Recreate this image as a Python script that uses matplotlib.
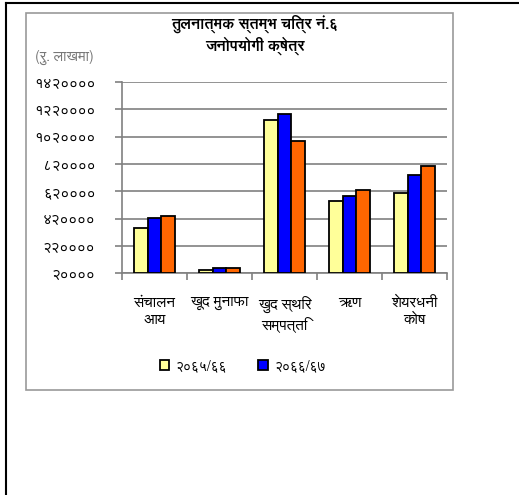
import numpy as np
import matplotlib
matplotlib.use("Agg")
import matplotlib.pyplot as plt
from matplotlib import font_manager
from matplotlib.ft2font import FT2Font
from matplotlib.lines import Line2D
from matplotlib.patches import Rectangle

# Data (in rupees lakh)
categories = ["संचालन\nआय", "खूद मुनाफा", "खुद स्थिर\nसम्पत्ति", "ऋण", "शेयरधनी\nकोष"]
series_names = ["२०६५/६६", "२०६६/६७", "२०६७/६८"]
vals_6566 = [350000, 46000, 1141000, 552000, 608000]
vals_6667 = [423000, 61000, 1187000, 584000, 740000]
vals_6768 = [442000, 57000, 987000, 632000, 808000]
ytick_vals = [20000, 220000, 420000, 620000, 820000, 1020000, 1220000, 1420000]
ytick_labels = ["२००००", "२२००००", "४२००००", "६२००००", "८२००००", "१०२००००", "१२२००००", "१४२००००"]
colors = ["#FFFF99", "#0000FF", "#FF6600"]


# pick an installed font with Devanagari glyphs
def pick_deva_font():
    names = []
    for f in font_manager.fontManager.ttflist:
        try:
            if 0x0915 in FT2Font(f.fname).get_charmap():
                names.append(f.name)
        except Exception:
            pass
    for pref in ["FreeSans", "FreeSerif"]:
        if pref in names:
            return pref
    return names[0] if names else None


deva = pick_deva_font()
plt.rcParams["font.family"] = ([deva] if deva else []) + ["DejaVu Sans"]

fig = plt.figure(figsize=(5.19, 4.95), dpi=100)
W, H = 519, 495

# page frame (left and top edges only)
fig.add_artist(Line2D([6 / W, 6 / W], [0, 1 - 3 / H], color="black", lw=1.5))
fig.add_artist(Line2D([6 / W, 1], [1 - 3 / H, 1 - 3 / H], color="black", lw=1.5))
# chart box
fig.add_artist(Rectangle((26 / W, 1 - 390 / H), (453 - 26) / W, (390 - 13) / H,
                         fill=False, edgecolor="#999999", lw=1.2))

ax = fig.add_axes([122 / W, 1 - 273.3 / H, (447 - 122) / W, (273.3 - 82) / H])

x = np.arange(len(categories))
bw = 0.215
all_vals = [vals_6566, vals_6667, vals_6768]
bars = []
for i, (v, c) in enumerate(zip(all_vals, colors)):
    b = ax.bar(x + (i - 1) * bw, np.array(v) - ytick_vals[0], bw, bottom=ytick_vals[0],
               color=c, edgecolor="black", linewidth=1.3, zorder=3)
    bars.append(b)

ax.set_xlim(-0.5, len(categories) - 0.5)
ax.set_ylim(ytick_vals[0], ytick_vals[-1])
ax.set_yticks(ytick_vals)
ax.set_yticklabels(ytick_labels, fontsize=11)
ax.yaxis.grid(True, color="#808080", lw=1.2, zorder=0)
ax.set_xticks(np.arange(len(categories) + 1) - 0.5)
ax.set_xticklabels([])
ax.set_xticks(x, minor=True)
ax.set_xticklabels(categories, minor=True, fontsize=11, linespacing=1.3)
ax.tick_params(axis="x", which="minor", length=0, pad=16)
ax.tick_params(axis="x", which="major", length=5, color="#808080", width=1.2)
ax.tick_params(axis="y", length=5, color="#808080", width=1.2, pad=14)
for s in ["top", "right"]:
    ax.spines[s].set_visible(False)
for s in ["left", "bottom"]:
    ax.spines[s].set_color("#808080")
    ax.spines[s].set_linewidth(1.2)

fig.text(255 / W, 1 - 35 / H, "तुलनात्मक स्तम्भ चित्र नं.६\nजनोपयोगी क्षेत्र",
         ha="center", va="center", fontsize=11, fontweight="bold", linespacing=1.25)
fig.text(35 / W, 1 - 57 / H, "(रु. लाखमा)", ha="left", va="center",
         fontsize=10.5, color="#777777")

fig.legend(bars[:2], series_names[:2], loc="center", bbox_to_anchor=(243 / W, 1 - 366 / H),
           ncol=2, frameon=False, fontsize=10, handlelength=0.7, handleheight=0.7,
           columnspacing=2.2, handletextpad=0.5)

fig.savefig("out.png", dpi=100)
